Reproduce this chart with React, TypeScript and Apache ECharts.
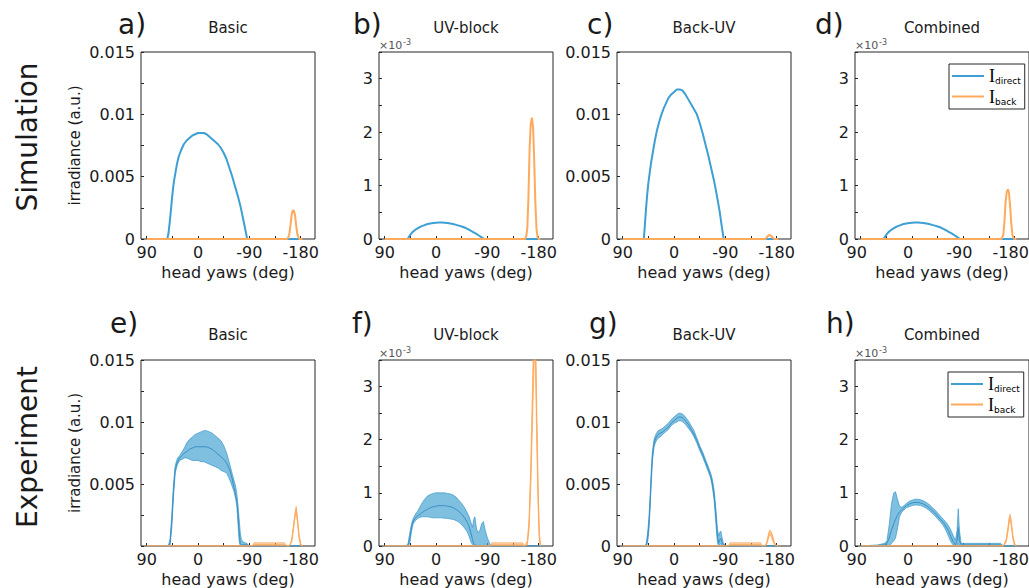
import React, { useEffect, useRef } from "react";
import * as echarts from "echarts";

// ---------- data (degrees of head yaw, irradiance) ----------
// Simulation, [deg, value]; UV-block / Combined values are in units of 1e-3
const simBasicDirect = [[90,0],[54,0],[52,0.0004],[50,0.0012],[48,0.0021],[46,0.0031],[44,0.004],[42,0.0047],[40,0.0052],[37,0.006],[34,0.0066],[30,0.0071],[25,0.0076],[20,0.0079],[15,0.0081],[10,0.0083],[5,0.0084],[0,0.0085],[-5,0.0085],[-10,0.0085],[-15,0.0084],[-20,0.0082],[-25,0.008],[-30,0.0078],[-35,0.0076],[-40,0.0073],[-45,0.0069],[-50,0.0064],[-55,0.0057],[-60,0.005],[-65,0.0042],[-70,0.0034],[-75,0.0025],[-80,0.0014],[-84,0.0005],[-86,0],[-183,0]];
const simBasicBack = [[90,0],[-156,0],[-158,0.0001],[-160,0.0004],[-162,0.0011],[-164,0.0019],[-166,0.0023],[-168,0.00227],[-170,0.0019],[-172,0.0011],[-174,0.0004],[-176,0.0001],[-178,0],[-183,0]];
const simUvDirect = [[90,0],[50,0],[48,0.03],[45,0.08],[42,0.12],[38,0.16],[34,0.19],[30,0.215],[25,0.24],[20,0.26],[15,0.28],[10,0.29],[5,0.3],[0,0.305],[-5,0.31],[-10,0.31],[-15,0.305],[-20,0.3],[-25,0.29],[-30,0.28],[-35,0.265],[-40,0.25],[-45,0.235],[-50,0.215],[-55,0.19],[-60,0.16],[-65,0.13],[-70,0.1],[-75,0.065],[-80,0.03],[-84,0],[-183,0]];
const simUvBack = [[90,0],[-156,0],[-158,0.05],[-160,0.2],[-162,0.8],[-164,1.7],[-166,2.15],[-168,2.27],[-170,2.1],[-172,1.5],[-174,0.7],[-176,0.2],[-178,0.03],[-180,0],[-183,0]];
const simBackDirect = [[90,0],[53,0],[51,0.0012],[49,0.0025],[47,0.0036],[45,0.0045],[43,0.0052],[40,0.0062],[37,0.007],[34,0.0078],[30,0.0087],[26,0.0094],[22,0.01],[18,0.0105],[14,0.0109],[10,0.0113],[5,0.0116],[0,0.0118],[-5,0.012],[-10,0.012],[-15,0.0119],[-20,0.0116],[-25,0.0112],[-30,0.0108],[-35,0.0104],[-40,0.01],[-45,0.0093],[-50,0.0085],[-55,0.0076],[-60,0.0067],[-65,0.0057],[-70,0.0047],[-75,0.0035],[-80,0.0022],[-84,0.0009],[-87,0],[-183,0]];
const simBackBack = [[90,0],[-160,0],[-163,0.00015],[-166,0.0003],[-168,0.00032],[-170,0.00025],[-173,0.0001],[-176,0],[-183,0]];
const simCombDirect = [[90,0],[50,0],[48,0.03],[45,0.08],[42,0.12],[38,0.16],[34,0.19],[30,0.215],[25,0.24],[20,0.26],[15,0.28],[10,0.29],[5,0.3],[0,0.305],[-5,0.31],[-10,0.31],[-15,0.305],[-20,0.3],[-25,0.29],[-30,0.28],[-35,0.265],[-40,0.25],[-45,0.235],[-50,0.215],[-55,0.19],[-60,0.16],[-65,0.13],[-70,0.1],[-75,0.065],[-80,0.03],[-84,0],[-183,0]];
const simCombBack = [[90,0],[-156,0],[-158,0.02],[-160,0.08],[-162,0.33],[-164,0.7],[-166,0.88],[-168,0.93],[-170,0.86],[-172,0.6],[-174,0.28],[-176,0.08],[-178,0.01],[-180,0],[-183,0]];

// Experiment: mean with lower / upper band
const expBasicDeg = [90,52,49,46,43,40,36,32,28,24,20,15,10,5,0,-5,-10,-15,-20,-25,-30,-35,-40,-45,-50,-55,-60,-63,-66,-68,-70,-72,-74,-76,-80,-86,-90,-183];
const expBasicMean = [0,0,0.0003,0.002,0.0045,0.0062,0.0068,0.0071,0.0073,0.0075,0.0076,0.0078,0.0079,0.008,0.008,0.008,0.008,0.008,0.0079,0.0078,0.0076,0.0074,0.0072,0.007,0.0067,0.0062,0.0054,0.0047,0.0041,0.0036,0.0026,0.0012,0.0002,0.0001,0.0001,0.0001,0,0];
const expBasicLo = [0,0,0,0.0015,0.004,0.0059,0.0066,0.0069,0.007,0.0071,0.0071,0.007,0.0069,0.0069,0.0069,0.0068,0.0068,0.0067,0.0066,0.0065,0.0064,0.0063,0.0061,0.006,0.0059,0.0054,0.0048,0.0044,0.0038,0.0032,0.0018,0.0004,0,0,0,0,0,0];
const expBasicHi = [0,0,0.0006,0.0025,0.005,0.0065,0.0071,0.0073,0.0076,0.0079,0.0083,0.0086,0.0088,0.009,0.0091,0.0092,0.0093,0.0093,0.0092,0.0091,0.0089,0.0087,0.0085,0.0081,0.0075,0.0067,0.0058,0.0053,0.0048,0.0042,0.0033,0.0022,0.0011,0.0005,0.0003,0.0002,0,0];
const expBasicBackDeg = [90,-95,-98,-152,-155,-160,-164,-167,-170,-172,-174,-177,-180,-183];
const expBasicBackMean = [0,0,0.0001,0.0001,0,0,0.0004,0.0014,0.0025,0.003,0.0022,0.0008,0.0001,0];
const expBasicBackLo = [0,0,0,0,0,0,0.0003,0.0012,0.0023,0.0028,0.002,0.0006,0,0];
const expBasicBackHi = [0,0,0.00026,0.00026,0,0,0.0005,0.0016,0.0027,0.0032,0.0024,0.001,0.0002,0];

const expUvDeg = [90,52,49,46,43,40,36,32,28,24,20,15,10,5,0,-5,-10,-15,-20,-25,-30,-35,-40,-45,-50,-55,-58,-61,-64,-66,-68,-71,-74,-77,-80,-83,-86,-90,-94,-98,-183];
const expUvMean = [0,0,0.02,0.15,0.35,0.47,0.53,0.57,0.6,0.63,0.66,0.69,0.72,0.74,0.75,0.76,0.76,0.76,0.75,0.74,0.72,0.69,0.65,0.6,0.53,0.44,0.36,0.25,0.12,0.05,0.02,0.01,0.01,0.01,0.01,0.01,0.01,0.01,0,0,0];
const expUvLo = [0,0,0,0.05,0.28,0.42,0.48,0.52,0.54,0.55,0.55,0.55,0.54,0.53,0.53,0.53,0.53,0.52,0.52,0.51,0.5,0.48,0.45,0.4,0.34,0.26,0.18,0.08,0.02,0,0,0,0,0,0,0,0,0,0,0,0];
const expUvHi = [0,0,0.05,0.25,0.42,0.52,0.6,0.66,0.74,0.82,0.88,0.94,0.97,0.99,1.0,1.0,1.0,1.0,0.99,0.98,0.96,0.92,0.86,0.8,0.72,0.62,0.55,0.45,0.35,0.5,0.55,0.32,0.25,0.3,0.42,0.46,0.3,0.15,0.05,0,0];
const expUvBackDeg = [90,-95,-98,-152,-155,-160,-163,-166,-168,-170,-172,-173,-175,-177,-179,-181,-183];
const expUvBackMean = [0,0,0.02,0.02,0,0.05,0.4,1.3,2.2,3.1,3.9,4.1,3.3,2.0,0.9,0.2,0];
const expUvBackLo = [0,0,0,0,0,0.02,0.3,1.1,1.9,2.7,3.5,3.7,2.9,1.7,0.7,0.1,0];
const expUvBackHi = [0,0,0.06,0.06,0,0.1,0.5,1.5,2.5,3.5,4.3,4.5,3.7,2.3,1.1,0.3,0];

const expBackDeg = [90,50,48,46,44,42,40,38,35,32,28,24,20,15,10,5,0,-5,-8,-12,-16,-20,-25,-30,-35,-40,-45,-50,-55,-60,-64,-67,-70,-72,-74,-76,-78,-80,-82,-84,-86,-90,-183];
const expBackMean = [0,0,0.0002,0.0008,0.0018,0.0035,0.0055,0.0072,0.0083,0.0087,0.009,0.0091,0.0092,0.0094,0.0096,0.0099,0.0101,0.0103,0.0104,0.0104,0.0103,0.0101,0.0098,0.0094,0.009,0.0085,0.0079,0.0074,0.0068,0.0062,0.0057,0.0051,0.0042,0.0032,0.002,0.0008,0.0002,0.0005,0.0006,0.0003,0.0001,0,0];
const expBackLo = [0,0,0,0.0004,0.0013,0.003,0.005,0.0068,0.008,0.0084,0.0087,0.0088,0.009,0.0092,0.0094,0.0097,0.0099,0.01,0.0101,0.0101,0.01,0.0098,0.0095,0.0092,0.0088,0.0083,0.0077,0.0072,0.0066,0.006,0.0055,0.0048,0.0038,0.0027,0.0014,0.0003,0,0.0001,0.0002,0,0,0,0];
const expBackHi = [0,0,0.0004,0.0012,0.0023,0.004,0.006,0.0076,0.0086,0.009,0.0093,0.0094,0.0095,0.0097,0.0099,0.0102,0.0104,0.0106,0.0107,0.0107,0.0106,0.0104,0.0101,0.0097,0.0093,0.0087,0.0081,0.0076,0.007,0.0064,0.0059,0.0054,0.0046,0.0037,0.0026,0.0014,0.0008,0.0011,0.0012,0.0007,0.0003,0,0];
const expBackBackDeg = [90,-95,-98,-152,-155,-160,-163,-166,-168,-170,-173,-176,-180,-183];
const expBackBackMean = [0,0,0.0001,0.0001,0,0,0.0003,0.0009,0.0011,0.001,0.0006,0.0002,0,0];
const expBackBackLo = [0,0,0,0,0,0,0.0002,0.0007,0.0009,0.0008,0.0004,0.0001,0,0];
const expBackBackHi = [0,0,0.00026,0.00026,0,0,0.0004,0.0011,0.0013,0.0012,0.0008,0.0003,0,0];

const expCombDeg = [90,60,52,48,44,40,36,32,29,26,22,18,14,10,5,0,-5,-10,-15,-20,-25,-30,-35,-40,-45,-50,-55,-60,-64,-68,-72,-76,-79,-81,-83,-86,-90,-95,-100,-150,-155,-160,-183];
const expCombMean = [0,0.01,0.02,0.03,0.05,0.15,0.3,0.42,0.5,0.57,0.64,0.68,0.72,0.76,0.79,0.81,0.82,0.82,0.81,0.79,0.76,0.72,0.67,0.62,0.56,0.5,0.44,0.36,0.28,0.18,0.08,0.02,0.1,0.35,0.1,0.02,0.02,0.02,0.02,0.02,0.02,0,0];
const expCombLo = [0,0,0,0,0,0,0.05,0.1,0.15,0.3,0.55,0.64,0.68,0.72,0.74,0.76,0.77,0.77,0.76,0.74,0.71,0.67,0.62,0.57,0.51,0.45,0.38,0.28,0.18,0.08,0.02,0,0,0.05,0,0,0,0,0,0,0,0,0];
const expCombHi = [0,0.02,0.04,0.05,0.1,0.4,0.8,1.0,1.02,0.9,0.75,0.73,0.76,0.8,0.84,0.86,0.88,0.88,0.87,0.85,0.82,0.78,0.73,0.68,0.62,0.56,0.5,0.44,0.38,0.3,0.2,0.1,0.3,0.7,0.3,0.05,0.05,0.05,0.05,0.05,0.05,0,0];
const expCombBackDeg = [90,-160,-165,-168,-170,-172,-174,-177,-180,-183];
const expCombBackMean = [0,0,0.1,0.3,0.48,0.55,0.42,0.15,0.02,0];
const expCombBackLo = [0,0,0.07,0.25,0.42,0.5,0.37,0.11,0,0];
const expCombBackHi = [0,0,0.13,0.35,0.53,0.6,0.47,0.19,0.04,0];

// ---------- labels / ticks ----------
const panelTitles = ["Basic", "UV-block", "Back-UV", "Combined", "Basic", "UV-block", "Back-UV", "Combined"];
const panelLetters = ["a)", "b)", "c)", "d)", "e)", "f)", "g)", "h)"];
const rowLabels = ["Simulation", "Experiment"];
const xTicks = [90, 45, 0, -45, -90, -135, -180];
const xTickLabels = [90, 0, -90, -180];
const yTicksAbs = [0, 0.0025, 0.005, 0.0075, 0.01, 0.0125, 0.015];
const yLabelsAbs = [0, 0.005, 0.01, 0.015];
const yLabelsAbsNoZero = [0.005, 0.01, 0.015];
const yTicksMilli = [0, 0.5, 1, 1.5, 2, 2.5, 3, 3.5];
const yLabelsMilli = [0, 1, 2, 3];

// ---------- layout / style ----------
const FONT = '"DejaVu Sans", Verdana, sans-serif';
const BLUE = "#3d9fd3";
const BLUE_EDGE = "#3a98cc";
const BLUE_FILL = "rgba(66,160,208,0.68)";
const BLUE_MEAN = "#3b8fc3";
const ORANGE = "#fdaa5c";
const ORANGE_FILL = "rgba(250,160,80,0.5)";
const INK = "#1a1a1a";
const GRID_LEFT = [141, 379, 617, 855];
const ROW_TOP = [52, 360];
const ROW_H = [187, 186];
const GRID_W = 174;
const LETTER_POS = [[118, 24], [353, 24], [587, 24], [815, 24], [110, 323], [352, 323], [589, 323], [826, 323]];

function simLine(i: number, data: number[][], color: string, name?: string) {
  return {
    type: "line", name, xAxisIndex: i, yAxisIndex: i, data,
    symbol: "none", showSymbol: false, silent: true,
    lineStyle: { color, width: 2 }, itemStyle: { color },
    emphasis: { disabled: true }, z: color === ORANGE ? 4 : 3,
  };
}

function bandSeries(i: number, deg: number[], mean: number[], lo: number[], hi: number[],
  edge: string, fill: string, meanColor: string, z: number, name?: string) {
  const base = { type: "line", xAxisIndex: i, yAxisIndex: i, symbol: "none", showSymbol: false, silent: true, emphasis: { disabled: true }, z };
  return [
    {
      type: "custom", coordinateSystem: "cartesian2d", xAxisIndex: i, yAxisIndex: i, silent: true, clip: true, z,
      data: [[deg[0], mean[0]]],
      renderItem: (_p: any, api: any) => {
        const up = deg.map((d, k) => api.coord([d, hi[k]]));
        const dn = deg.map((d, k) => api.coord([d, lo[k]])).reverse();
        return { type: "polygon", shape: { points: up.concat(dn) }, style: { fill, stroke: null } };
      },
    },
    { ...base, data: deg.map((d, k) => [d, lo[k]]), lineStyle: { color: edge, width: 0.7 } },
    { ...base, data: deg.map((d, k) => [d, hi[k]]), lineStyle: { color: edge, width: 0.7 } },
    { ...base, name, data: deg.map((d, k) => [d, mean[k]]), lineStyle: { color: meanColor, width: 1 }, itemStyle: { color: meanColor } },
  ];
}

function buildOption() {
  const grids: any[] = [];
  const xAxes: any[] = [];
  const yAxes: any[] = [];
  for (let i = 0; i < 8; i++) {
    const row = i < 4 ? 0 : 1;
    const col = i % 4;
    const milli = col === 1 || col === 3;
    grids.push({
      left: GRID_LEFT[col], top: ROW_TOP[row], width: GRID_W, height: ROW_H[row],
      show: true, borderColor: "#262626", borderWidth: 1, backgroundColor: "transparent",
      containLabel: false, outerBoundsMode: "none",
    });
    xAxes.push({
      type: "value", gridIndex: i, min: -205, max: 100, inverse: true, position: "bottom",
      axisLine: { show: false, onZero: false }, splitLine: { show: false },
      axisTick: { show: true, inside: true, length: 3, customValues: xTicks, lineStyle: { color: "#262626" } },
      axisLabel: {
        customValues: xTickLabels, color: INK, fontSize: 16, fontFamily: FONT, margin: 5,
        padding: col === 3 ? [0, 8, 0, 0] : 0,
      },
      name: "head yaws (deg)", nameLocation: "middle", nameGap: 25,
      nameTextStyle: { color: INK, fontSize: 16, fontFamily: FONT },
    });
    yAxes.push({
      type: "value", gridIndex: i, min: 0, max: milli ? 3.5 : 0.015, position: "left",
      axisLine: { show: false, onZero: false }, splitLine: { show: false },
      axisTick: { show: true, inside: true, length: 3, customValues: milli ? yTicksMilli : yTicksAbs, lineStyle: { color: "#262626" } },
      axisLabel: {
        customValues: milli ? yLabelsMilli : (i === 4 ? yLabelsAbsNoZero : yLabelsAbs),
        color: INK, fontSize: 16, fontFamily: FONT, margin: 6,
        formatter: (v: number) => (v === 0 ? "0" : String(+v.toFixed(4))),
      },
      name: col === 0 ? "irradiance (a.u.)" : "", nameLocation: "middle", nameGap: 59,
      nameTextStyle: { color: INK, fontSize: 15, fontFamily: FONT },
    });
  }

  const series: any[] = [
    simLine(0, simBasicDirect, BLUE), simLine(0, simBasicBack, ORANGE),
    simLine(1, simUvDirect, BLUE), simLine(1, simUvBack, ORANGE),
    simLine(2, simBackDirect, BLUE), simLine(2, simBackBack, ORANGE),
    simLine(3, simCombDirect, BLUE, "Idirect"), simLine(3, simCombBack, ORANGE, "Iback"),
    ...bandSeries(4, expBasicDeg, expBasicMean, expBasicLo, expBasicHi, BLUE_EDGE, BLUE_FILL, BLUE_MEAN, 3),
    ...bandSeries(4, expBasicBackDeg, expBasicBackMean, expBasicBackLo, expBasicBackHi, ORANGE, ORANGE_FILL, ORANGE, 4),
    ...bandSeries(5, expUvDeg, expUvMean, expUvLo, expUvHi, BLUE_EDGE, BLUE_FILL, BLUE_MEAN, 3),
    ...bandSeries(5, expUvBackDeg, expUvBackMean, expUvBackLo, expUvBackHi, ORANGE, ORANGE_FILL, ORANGE, 4),
    ...bandSeries(6, expBackDeg, expBackMean, expBackLo, expBackHi, BLUE_EDGE, BLUE_FILL, BLUE_MEAN, 3),
    ...bandSeries(6, expBackBackDeg, expBackBackMean, expBackBackLo, expBackBackHi, ORANGE, ORANGE_FILL, ORANGE, 4),
    ...bandSeries(7, expCombDeg, expCombMean, expCombLo, expCombHi, BLUE_EDGE, BLUE_FILL, BLUE_MEAN, 3, "Idirect"),
    ...bandSeries(7, expCombBackDeg, expCombBackMean, expCombBackLo, expCombBackHi, ORANGE, ORANGE_FILL, ORANGE, 4, "Iback"),
  ];

  const legendBase = {
    data: ["Idirect", "Iback"], orient: "vertical", icon: "rect", itemWidth: 32, itemHeight: 2, itemGap: 2,
    padding: [3, 4, 3, 3], borderColor: "#262626", borderWidth: 1, backgroundColor: "#fff",
    selectedMode: false,
    formatter: (n: string) => (n === "Idirect" ? "{i|I}{s|direct}" : "{i|I}{s|back}"),
    textStyle: {
      rich: {
        i: { fontFamily: '"Liberation Serif", serif', fontSize: 18, lineHeight: 19, color: "#000" },
        s: { fontFamily: FONT, fontSize: 9, lineHeight: 9, verticalAlign: "bottom", color: "#000" },
      },
    },
  };

  const graphic: any[] = [];
  const txt = (text: string, x: number, y: number, size: number, extra: any = {}) => ({
    type: "text", x, y, silent: true, ...extra.el,
    style: {
      text, fill: extra.fill || INK, fontSize: size, fontFamily: FONT,
      align: extra.align || "left", verticalAlign: extra.va || "middle",
      textAlign: extra.align || "left", textVerticalAlign: extra.va || "middle",
    },
  });
  for (let i = 0; i < 8; i++) {
    const row = i < 4 ? 0 : 1;
    const col = i % 4;
    graphic.push(txt(panelLetters[i], LETTER_POS[i][0], LETTER_POS[i][1], 28));
    graphic.push(txt(panelTitles[i], GRID_LEFT[col] + GRID_W / 2, row === 0 ? 28 : 335, 15, { align: "center" }));
    if (col === 1 || col === 3) {
      const yb = ROW_TOP[row] - 1;
      graphic.push(txt("×10", GRID_LEFT[col], yb, 11, { va: "bottom", fill: "#555" }));
      graphic.push(txt("-3", GRID_LEFT[col] + 24, yb - 5, 8, { va: "bottom", fill: "#555" }));
    }
  }
  graphic.push(txt(rowLabels[0], 27, 137, 28, { align: "center", el: { rotation: Math.PI / 2 } }));
  graphic.push(txt(rowLabels[1], 27, 447, 28, { align: "center", el: { rotation: Math.PI / 2 } }));

  return {
    animation: false,
    backgroundColor: "#fff",
    grid: grids,
    xAxis: xAxes,
    yAxis: yAxes,
    series,
    legend: [
      { ...legendBase, left: 949, top: 64 },
      { ...legendBase, left: 948, top: 372 },
    ],
    graphic,
  };
}

export default function App() {
  const ref = useRef<HTMLDivElement>(null);
  useEffect(() => {
    if (!ref.current) return;
    const chart = echarts.init(ref.current, undefined, { renderer: "svg" });
    chart.setOption(buildOption() as any);
    return () => chart.dispose();
  }, []);
  return <div ref={ref} style={{ position: "absolute", left: 0, top: 0, width: 1029, height: 588 }} />;
}
